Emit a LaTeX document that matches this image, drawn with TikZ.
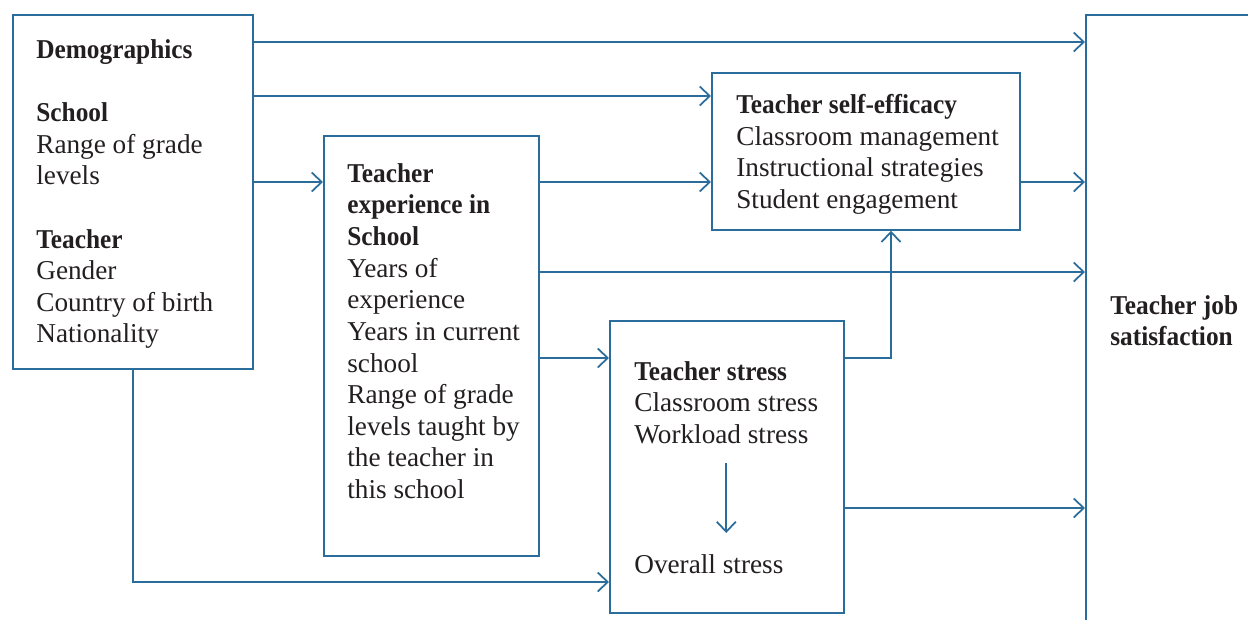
\documentclass[tikz,border=0pt]{standalone}
\usepackage{fontspec}
\setmainfont{Liberation Serif}[BoldFeatures={FakeStretch=0.93}]
\usetikzlibrary{arrows.meta}
\definecolor{linkblue}{HTML}{2A6D9C}
\definecolor{inkgray}{HTML}{231F20}

\begin{document}
\begin{tikzpicture}[x=0.02cm,y=-0.02cm,
  every node/.append style={font=\fontsize{15.5}{18}\selectfont,text=inkgray},
  box/.style={draw=linkblue,line width=1pt,anchor=north west,inner sep=0pt},
  label/.style={anchor=north west,align=left,inner sep=0pt},
  link/.style={draw=linkblue,line width=1pt,-{Straight Barb[length=2mm,width=3.8mm]}}]
  \useasboundingbox (0,0) rectangle (1248,619);

  % boxes
  \node[box,minimum width=4.8cm,minimum height=7.08cm] (demo) at (12,14) {};
  \node[box,minimum width=4.3cm,minimum height=8.4cm] (exper) at (323,135) {};
  \node[box,minimum width=6.16cm,minimum height=3.14cm] (effic) at (711,72) {};
  \node[box,minimum width=4.68cm,minimum height=5.84cm] (stress) at (609,320) {};
  \node[box,minimum width=6cm,minimum height=14cm] (satis) at (1085,14) {};

  % texts
  \node[label] (demotxt) at (36,39) {\textbf{Demographics}\\[18pt]\textbf{School}\\Range of grade\\levels\\[18pt]\textbf{Teacher}\\Gender\\Country of birth\\Nationality};
  \node[label] (expertxt) at (347,163) {\textbf{Teacher}\\\textbf{experience in}\\\textbf{School}\\Years of\\experience\\Years in current\\school\\Range of grade\\levels taught by\\the teacher in\\this school};
  \node[label] (effictxt) at (736,94) {\textbf{Teacher self-efficacy}\\Classroom management\\Instructional strategies\\Student engagement};
  \node[label] (stresstxt) at (634,361) {\textbf{Teacher stress}\\Classroom stress\\Workload stress};
  \node[label] (overall) at (634,554) {Overall stress};
  \node[label] (satistxt) at (1110,295) {\textbf{Teacher job}\\\textbf{satisfaction}};

  % paths
  \draw[link] (demo.east |- 0,42) -- (satis.west |- 0,42);
  \draw[link] (demo.east |- 0,96) -- (effic.west |- 0,96);
  \draw[link] (demo.east |- 0,182) -- (exper.west |- 0,182);
  \draw[link] (exper.east |- 0,182) -- (effic.west |- 0,182);
  \draw[link] (effic.east |- 0,182) -- (satis.west |- 0,182);
  \draw[link] (exper.east |- 0,272) -- (satis.west |- 0,272);
  \draw[link] (exper.east |- 0,358) -- (stress.west |- 0,358);
  \draw[link] (stress.east |- 0,358) -| (effic.south -| 891,0);
  \draw[link] (stress.east |- 0,508) -- (satis.west |- 0,508);
  \draw[link] (demo.south) |- (stress.west |- 0,582);
  \draw[link,shorten <=0.38cm,shorten >=0.42cm] (stresstxt.south) -- (stresstxt.south |- overall.north);
\end{tikzpicture}
\end{document}
